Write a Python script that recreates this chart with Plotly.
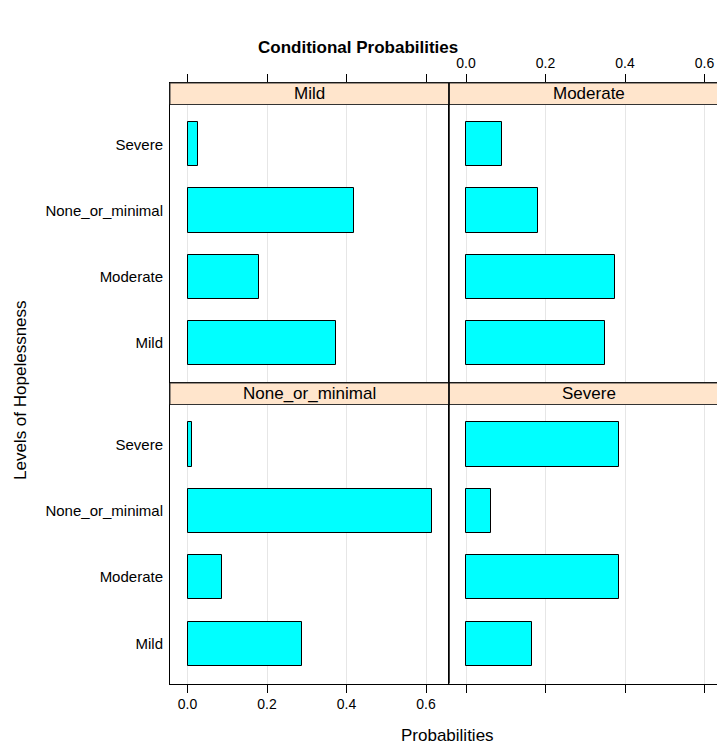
import plotly.graph_objects as go

# ---- data ----
levels = ["Mild", "Moderate", "None_or_minimal", "Severe"]          # y categories (bottom -> top)
panels = ["Mild", "Moderate", "None_or_minimal", "Severe"]          # panel order: TL, TR, BL, BR
prob_mild = [0.373, 0.181, 0.418, 0.026]
prob_moderate = [0.350, 0.376, 0.181, 0.091]
prob_none = [0.288, 0.087, 0.615, 0.011]
prob_severe = [0.166, 0.384, 0.064, 0.384]
x_ticks = [0.0, 0.2, 0.4, 0.6]
x_ticktext = ["0.0", "0.2", "0.4", "0.6"]

values = [prob_mild, prob_moderate, prob_none, prob_severe]

# ---- layout geometry (screen pixels; page margin removed by post_script) ----
OFF = 0
W, H = 717, 747
X0, XM, XR = 170, 449, 717
ZERO_L, ZERO_R, PPU = 187.5, 466.0, 397.5
T0, T1, M0, M1, B = 83.0, 104.5, 383.0, 404.5, 683.5
FONT = "Liberation Sans, Arial, Helvetica, sans-serif"

def px(p):
    return (p - OFF) / W

def py(p):
    return 1 - (p - OFF) / H

# y ranges so plot area maps to [0.4, 4.6] and the strip sits on top
def yrange(top_strip, top_plot, bottom):
    ppu = (bottom - top_plot) / 4.2
    return [0.4, 4.6 + (top_plot - top_strip) / ppu]

yr_top = yrange(T0, T1, M0)
yr_bot = yrange(M0, M1, B)

xr_left = [-(ZERO_L - X0) / PPU, (XM - ZERO_L) / PPU]
xr_right = [-(ZERO_R - XM) / PPU, (XR - ZERO_R) / PPU]

fig = go.Figure()

axis_ids = ["", "2", "3", "4"]
for i, (name, vals) in enumerate(zip(panels, values)):
    fig.add_trace(go.Bar(
        x=vals, y=[1, 2, 3, 4], orientation="h", width=2 / 3,
        marker=dict(color="#00FFFF", line=dict(color="black", width=1)),
        xaxis="x" + axis_ids[i], yaxis="y" + axis_ids[i],
        showlegend=False, hoverinfo="x+y",
    ))

def xaxis(domain, rng, side, labels, anchor):
    return dict(
        domain=domain, range=rng, side=side, anchor=anchor,
        tickvals=x_ticks, ticktext=x_ticktext, showticklabels=labels,
        ticks="outside", ticklen=8, tickcolor="black", tickwidth=1,
        showline=True, mirror=True, linecolor="black", linewidth=1,
        showgrid=True, gridcolor="#e6e6e6", gridwidth=1, zeroline=False,
        tickfont=dict(family=FONT, size=14, color="black"), fixedrange=True,
    )

def yaxis(domain, rng, labels, anchor):
    return dict(
        domain=domain, range=rng, anchor=anchor,
        tickvals=[1, 2, 3, 4], ticktext=levels, showticklabels=labels,
        ticks="", showline=True, mirror=False, linecolor="black", linewidth=1,
        showgrid=False, zeroline=False, ticklabelstandoff=3,
        tickfont=dict(family=FONT, size=15, color="black"), fixedrange=True,
    )

dl = [px(X0), px(XM)]
dr = [px(XM), 1.0]
dt = [py(M0), py(T0)]
db = [py(B), py(M0)]

layout = dict(
    width=W, height=H, margin=dict(l=0, r=0, t=0, b=0),
    paper_bgcolor="white", plot_bgcolor="white", bargap=0,
    xaxis=xaxis(dl, xr_left, "top", False, "y"),
    yaxis=yaxis(dt, yr_top, True, "x"),
    xaxis2=xaxis(dr, xr_right, "top", True, "y2"),
    yaxis2=yaxis(dt, yr_top, False, "x2"),
    xaxis3=xaxis(dl, xr_left, "bottom", True, "y3"),
    yaxis3=yaxis(db, yr_bot, True, "x3"),
    xaxis4=xaxis(dr, xr_right, "bottom", False, "y4"),
    yaxis4=yaxis(db, yr_bot, False, "x4"),
)

shapes = []
annotations = []
strips = [
    (X0, XM, T0, T1, panels[0]),
    (XM, 728, T0, T1, panels[1]),
    (X0, XM, M0, M1, panels[2]),
    (XM, 728, M0, M1, panels[3]),
]
for (a, b_, t, bt, label) in strips:
    shapes.append(dict(type="rect", xref="paper", yref="paper",
                       x0=px(a), x1=px(b_), y0=py(bt), y1=py(t),
                       fillcolor="#FFE5CC", line=dict(color="#333333", width=1),
                       layer="above"))
    annotations.append(dict(text=label, xref="paper", yref="paper",
                            x=px((a + b_) / 2), y=py((t + bt) / 2),
                            xanchor="center", yanchor="middle", showarrow=False,
                            font=dict(family=FONT, size=17, color="black")))
# vertical divider between columns
shapes.append(dict(type="line", xref="paper", yref="paper",
                   x0=px(XM), x1=px(XM), y0=py(B), y1=py(T0),
                   line=dict(color="black", width=1.5), layer="above"))

annotations += [
    dict(text="<b>Conditional Probabilities</b>", xref="paper", yref="paper",
         x=px(358), y=py(47.5), xanchor="center", yanchor="middle", showarrow=False,
         font=dict(family=FONT, size=17, color="black")),
    dict(text="Probabilities", xref="paper", yref="paper",
         x=px(447), y=py(735), xanchor="center", yanchor="middle", showarrow=False,
         font=dict(family=FONT, size=17, color="black")),
    dict(text="Levels of Hopelessness", xref="paper", yref="paper",
         x=px(20), y=py(390), xanchor="center", yanchor="middle", showarrow=False,
         textangle=-90, font=dict(family=FONT, size=17, color="black")),
]

layout["shapes"] = shapes
layout["annotations"] = annotations
fig.update_layout(**layout)

# remove the default page margin so the figure fills the window exactly
fig.write_html(
    "out.html",
    config={"displayModeBar": False},
    post_script="document.body.style.margin='0';"
                "document.documentElement.style.overflow='hidden';",
)
